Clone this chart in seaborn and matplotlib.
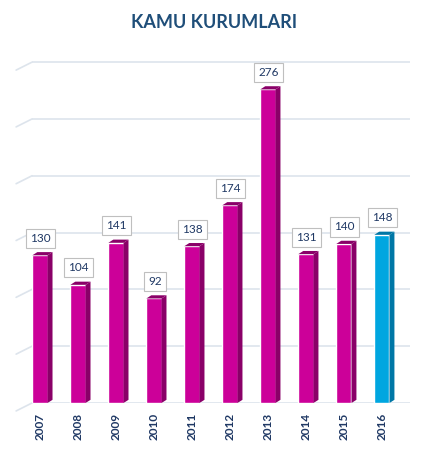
import matplotlib
matplotlib.use("Agg")
import matplotlib.pyplot as plt
import matplotlib.transforms as mtransforms
from matplotlib.patches import Polygon
import seaborn as sns

# Data
years = ["2007", "2008", "2009", "2010", "2011", "2012", "2013", "2014", "2015", "2016"]
values = [130, 104, 141, 92, 138, 174, 276, 131, 140, 148]
front_colors = ["#cc0099"] * 9 + ["#00a6e0"]
side_colors = ["#8a0068"] * 9 + ["#0077a6"]

title_color = "#1f4e79"
text_color = "#1f3864"
grid_color = "#dde4ec"

sns.set_theme(style="white")
plt.rcParams["font.family"] = ["Lato", "DejaVu Sans"]

fig = plt.figure(figsize=(4.28, 4.5), dpi=100)
ax = fig.add_axes([32 / 428, 47 / 450, 378 / 428, 342 / 450])

sns.barplot(x=years, y=values, hue=years, palette=front_colors, legend=False,
            width=0.4, saturation=1, ax=ax, zorder=3)

# fake 3D: side and top faces from the drawn bars
dx, dy = 0.13, 2.8
for bar, side in zip(ax.patches, side_colors):
    x0 = bar.get_x()
    x1 = x0 + bar.get_width()
    h = bar.get_height()
    ax.add_patch(Polygon([(x1, 0), (x1 + dx, dy), (x1 + dx, h + dy), (x1, h)],
                         closed=True, facecolor=side, edgecolor="none", zorder=3))
    ax.add_patch(Polygon([(x0, h), (x1, h), (x1 + dx, h + dy), (x0 + dx, h + dy)],
                         closed=True, facecolor=side, edgecolor="none", zorder=3))
    ax.annotate(str(int(h)), (x0 + bar.get_width() / 2 + 0.02, h + dy), xytext=(0, 6),
                textcoords="offset points", ha="center", va="bottom",
                fontsize=8.5, color=text_color, zorder=5,
                bbox=dict(boxstyle="square,pad=0.35", facecolor="white",
                          edgecolor="#bfbfbf", linewidth=0.8))

ax.set_ylim(0, 301)
ax.set_xlim(-0.21, 9.74)
ax.set_yticks(range(0, 301, 50))
ax.set_yticklabels([])
ax.yaxis.grid(True, color=grid_color, linewidth=1.2, zorder=0)
ax.tick_params(axis="y", length=0)
for s in ax.spines.values():
    s.set_visible(False)

# little perspective stubs on the left of the grid
trans = mtransforms.blended_transform_factory(ax.transAxes, ax.transData)
for yv in range(0, 301, 50):
    ax.plot([-0.042, 0], [yv - 7, yv], color=grid_color, lw=1.2,
            transform=trans, clip_on=False, zorder=0)

ax.set_xlabel("")
ax.set_ylabel("")
ax.tick_params(axis="x", length=0, pad=7)
for lbl in ax.get_xticklabels():
    lbl.set_rotation(90)
    lbl.set_fontfamily(["Liberation Sans Narrow", "Lato", "DejaVu Sans"])
    lbl.set_fontweight("bold")
    lbl.set_fontsize(8.5)
    lbl.set_color(text_color)

fig.text(0.5, 1 - 22 / 450, "KAMU KURUMLARI", ha="center", va="center",
         fontsize=13, fontweight="bold", color=title_color)

fig.savefig("out.png", dpi=100)
